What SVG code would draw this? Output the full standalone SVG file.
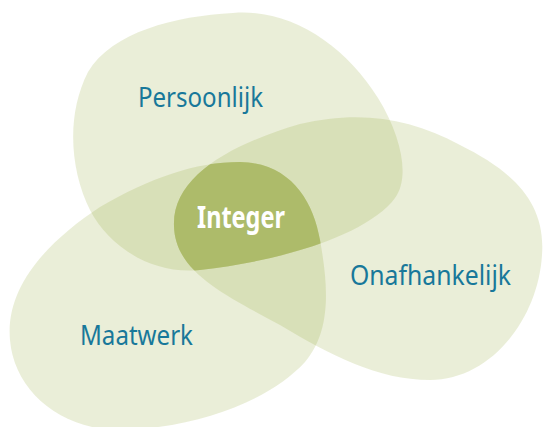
<svg xmlns="http://www.w3.org/2000/svg" width="543" height="427" viewBox="0 0 543 427">
  <style>
    .blob { fill: #8AA126; fill-opacity: 0.18; }
    .lbl { font-family: "Noto Sans", "DejaVu Sans", sans-serif; font-size: 28px; fill: #18789A; }
    .core { font-family: "Noto Sans", "DejaVu Sans", sans-serif; font-size: 31px; font-weight: bold; fill: #FFFFFF; }
  </style>
  <defs>
    <path id="p1" d="M 233,13 C 290,8 345,45 378,98 C 402,137 410,178 395,198 C 370,232 290,260 200,270 C 150,275 108,245 90,210 C 70,170 66,115 88,72 C 112,32 175,16 233,13 Z"/>
    <path id="p2" d="M 174,226 C 172,175 235,143 300,124 C 360,110 410,118 460,145 C 510,170 546,200 542,255 C 538,320 490,380 430,380 C 378,380 330,355 280,325 C 225,295 175,272 174,226 Z"/>
    <path id="p3" d="M 10,340 C 5,285 50,240 100,207 C 150,178 195,162 240,162 C 290,163 313,200 320,240 C 328,285 332,330 305,362 C 270,400 200,428 120,430 C 60,430 14,390 10,340 Z"/>
    <clipPath id="c2"><use href="#p2"/></clipPath>
    <clipPath id="c3"><use href="#p3"/></clipPath>
  </defs>
  <g id="persoonlijk">
    <use href="#p1" class="blob"/>
    <text class="lbl" x="138" y="107" textLength="125" lengthAdjust="spacingAndGlyphs">Persoonlijk</text>
  </g>
  <g id="onafhankelijk">
    <use href="#p2" class="blob"/>
    <text class="lbl" x="350" y="285" textLength="161" lengthAdjust="spacingAndGlyphs">Onafhankelijk</text>
  </g>
  <g id="maatwerk">
    <use href="#p3" class="blob"/>
    <text class="lbl" x="80" y="345" textLength="113" lengthAdjust="spacingAndGlyphs">Maatwerk</text>
  </g>
  <g id="integer">
    <g clip-path="url(#c2)">
      <use href="#p1" fill="#ADBB6A" clip-path="url(#c3)"/>
    </g>
    <text class="core" x="197" y="228" textLength="88" lengthAdjust="spacingAndGlyphs">Integer</text>
  </g>
  <g id="connectors"/>
</svg>
